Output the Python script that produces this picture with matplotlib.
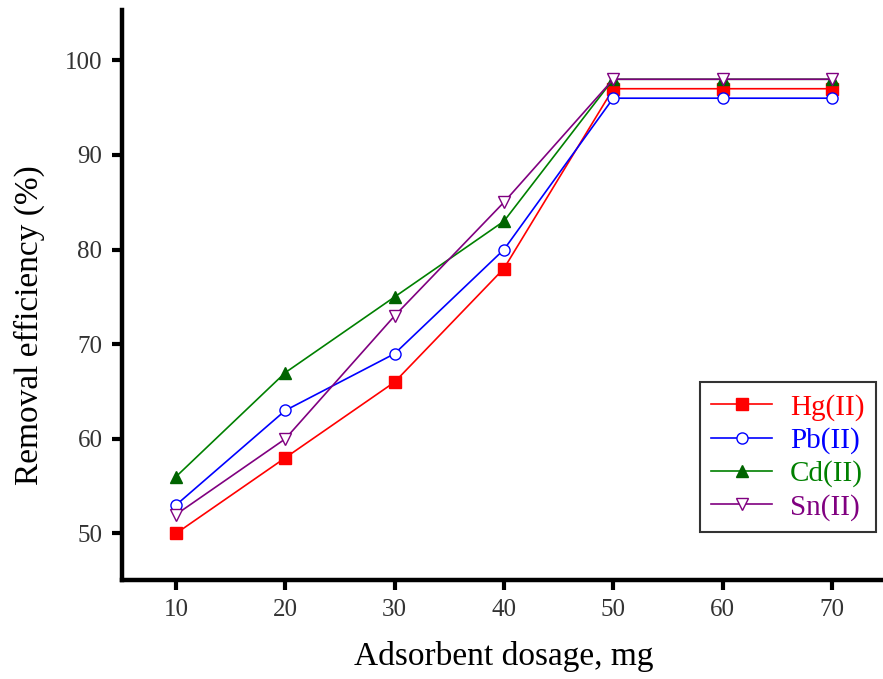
import matplotlib.pyplot as plt
import numpy as np

# Data
dosage = [10, 20, 30, 40, 50, 60, 70]
hg = [50, 58, 66, 78, 97, 97, 97]
pb = [53, 63, 69, 80, 96, 96, 96]
cd = [56, 67, 75, 83, 98, 98, 98]
sn = [52, 60, 73, 85, 98, 98, 98]

plt.rcParams['font.family'] = ['Liberation Serif', 'DejaVu Serif']

fig = plt.figure(figsize=(8.83, 6.79), dpi=100)
ax = fig.add_axes([0.138, 0.146, 0.866, 0.839])

ax.plot(dosage, hg, color='red', marker='s', markersize=8, lw=1.2, label='Hg(II)')
ax.plot(dosage, pb, color='blue', marker='o', markersize=8, mfc='white', lw=1.2, label='Pb(II)')
ax.plot(dosage, cd, color='green', marker='^', markersize=9, mfc='#006400', mec='#006400', lw=1.2, label='Cd(II)')
ax.plot(dosage, sn, color='purple', marker='v', markersize=9, mfc='white', lw=1.2, label='Sn(II)')

ax.set_xlim(5.05, 75)
ax.set_ylim(45.1, 105.3)
ax.set_xticks(dosage)
ax.set_yticks([50, 60, 70, 80, 90, 100])

for s in ['top', 'right']:
    ax.spines[s].set_visible(False)
for s in ['left', 'bottom']:
    ax.spines[s].set_linewidth(3.2)

ax.tick_params(axis='both', direction='out', length=7, width=3, labelsize=18,
               labelcolor='#333333', pad=7)

ax.set_xlabel('Adsorbent dosage, mg', fontsize=24, labelpad=14)
ax.set_ylabel('Removal efficiency (%)', fontsize=24)
ax.yaxis.set_label_coords(-0.10, 0.447)

leg = ax.legend(loc='lower right', bbox_to_anchor=(0.994, 0.073), fontsize=21,
                frameon=True, fancybox=False, edgecolor='black', handlelength=2.1,
                handletextpad=0.6, labelspacing=0.22, borderpad=0.4,
                borderaxespad=0.2)
leg.get_frame().set_linewidth(1.5)
for text, c in zip(leg.get_texts(), ['red', 'blue', 'green', 'purple']):
    text.set_color(c)

plt.savefig('out.png', dpi=100)
